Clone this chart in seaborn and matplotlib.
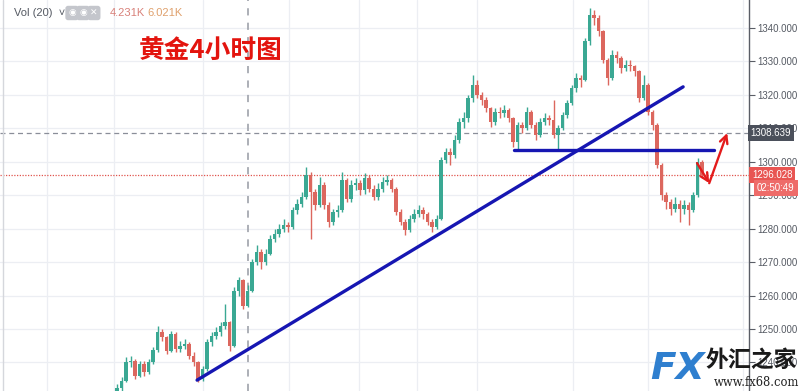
import numpy as np
import pandas as pd
import matplotlib
matplotlib.use("Agg")
import matplotlib.pyplot as plt
import seaborn as sns

# ---------------- data (4h gold candles) ----------------
first_open = 1231.0
closes = [
    1232.3, 1234.5, 1240.0, 1240.5, 1236.0, 1239.5, 1237.0, 1240.0, 1243.7, 1249.0,
    1247.5, 1243.5, 1248.5, 1244.0, 1245.0, 1245.5, 1242.0, 1240.0, 1235.0, 1238.0,
    1246.0, 1248.0, 1249.0, 1251.0, 1252.0, 1245.0, 1261.5, 1264.5, 1257.0, 1261.5,
    1270.0, 1273.0, 1270.0, 1272.5, 1277.0, 1278.5, 1280.0, 1281.0, 1280.5, 1285.5,
    1287.5, 1289.5, 1296.0, 1291.0, 1287.0, 1293.0, 1287.0, 1282.0, 1285.0, 1285.5,
    1294.5, 1289.0, 1293.0, 1293.5, 1291.5, 1295.0, 1292.0, 1289.5, 1292.0, 1294.0,
    1294.5, 1292.0, 1285.0, 1282.0, 1279.5, 1283.0, 1284.5, 1285.5, 1284.5, 1282.0,
    1280.5, 1283.0, 1300.5, 1303.0, 1302.0, 1306.5, 1312.0, 1313.0, 1319.0, 1323.0,
    1320.0, 1318.5, 1316.0, 1312.0, 1315.0, 1314.5, 1315.5, 1313.0, 1306.0, 1311.0,
    1310.0, 1315.0, 1311.0, 1308.0, 1312.0, 1313.0, 1312.5, 1308.0, 1310.0, 1314.0,
    1317.5, 1322.0, 1325.0, 1324.5, 1336.0, 1344.0, 1343.0, 1339.0, 1330.5, 1325.0,
    1332.0, 1331.0, 1328.0, 1329.0, 1328.5, 1327.0, 1319.0, 1323.0, 1315.0, 1311.0,
    1299.0, 1290.0, 1288.0, 1286.0, 1287.5, 1286.0, 1287.0, 1285.5, 1290.0, 1300.0,
    1296.03]
highs = [
    1233.5, 1235.5, 1241.5, 1242.0, 1241.0, 1240.5, 1240.5, 1241.0, 1244.5, 1251.0,
    1250.0, 1248.0, 1249.5, 1249.0, 1246.5, 1247.0, 1246.0, 1243.0, 1240.5, 1239.0,
    1247.0, 1249.0, 1250.5, 1252.0, 1257.5, 1252.5, 1262.5, 1265.5, 1265.0, 1263.0,
    1271.0, 1275.0, 1274.0, 1274.0, 1278.0, 1280.0, 1281.5, 1283.0, 1282.0, 1286.5,
    1289.0, 1291.0, 1298.3, 1297.0, 1292.0, 1295.5, 1294.0, 1288.0, 1286.0, 1287.0,
    1297.0, 1295.0, 1294.5, 1295.0, 1294.5, 1296.5, 1296.0, 1293.0, 1293.5, 1295.5,
    1296.0, 1295.0, 1292.5, 1286.0, 1283.0, 1284.0, 1286.0, 1287.0, 1286.5, 1285.0,
    1283.0, 1284.0, 1301.5, 1304.0, 1304.0, 1308.0, 1313.0, 1315.0, 1320.0, 1326.0,
    1324.5, 1321.0, 1319.5, 1316.5, 1316.0, 1316.5, 1317.0, 1316.0, 1313.5, 1312.0,
    1312.0, 1316.5, 1315.5, 1312.0, 1313.0, 1314.5, 1314.0, 1318.5, 1311.0, 1315.0,
    1318.5, 1323.0, 1326.5, 1326.0, 1337.0, 1346.0, 1345.5, 1344.0, 1339.5, 1331.0,
    1333.5, 1333.0, 1331.5, 1330.5, 1330.5, 1329.0, 1327.5, 1326.0, 1323.5, 1315.5,
    1311.5, 1299.5, 1291.0, 1289.0, 1289.5, 1288.5, 1288.5, 1288.0, 1291.0, 1301.0,
    1300.5]
lows = [
    1230.0, 1231.5, 1234.0, 1238.5, 1235.0, 1235.5, 1236.0, 1236.5, 1239.5, 1243.0,
    1246.5, 1242.5, 1243.0, 1243.0, 1243.0, 1244.0, 1241.0, 1239.0, 1234.0, 1234.5,
    1237.5, 1245.0, 1247.0, 1248.0, 1250.0, 1243.5, 1244.5, 1260.0, 1256.0, 1256.5,
    1261.0, 1269.0, 1268.0, 1269.0, 1272.0, 1276.0, 1277.5, 1279.0, 1279.0, 1280.0,
    1284.5, 1286.5, 1289.0, 1277.0, 1285.5, 1286.5, 1286.0, 1280.5, 1281.0, 1283.5,
    1285.0, 1288.0, 1288.0, 1291.5, 1290.0, 1290.5, 1291.0, 1288.5, 1288.5, 1291.0,
    1293.0, 1291.0, 1284.0, 1281.0, 1278.0, 1279.0, 1282.0, 1283.5, 1283.0, 1281.0,
    1279.0, 1280.0, 1282.5, 1299.5, 1299.0, 1301.0, 1305.5, 1310.0, 1312.0, 1318.0,
    1319.0, 1317.0, 1315.0, 1310.5, 1311.0, 1313.0, 1313.5, 1312.0, 1304.5, 1303.5,
    1308.5, 1309.5, 1310.0, 1306.5, 1307.5, 1311.0, 1311.0, 1307.0, 1303.5, 1309.5,
    1313.0, 1317.0, 1321.0, 1322.5, 1324.0, 1335.0, 1341.0, 1337.5, 1329.5, 1323.0,
    1324.5, 1329.5, 1326.5, 1327.0, 1327.0, 1325.5, 1318.0, 1318.5, 1314.0, 1309.5,
    1298.0, 1288.5, 1286.0, 1284.0, 1285.0, 1282.0, 1284.5, 1281.0, 1285.0, 1289.5,
    1295.0]

y_ticks = [1240, 1250, 1260, 1270, 1280, 1290, 1300, 1310, 1320, 1330, 1340]
last_price = 1296.028
marked_price = 1308.639
countdown = "02:50:49"
vol_values = ["4.231K", "6.021K"]
title_text = "黄金4小时图"

# drawings on the chart (bar index, price)
trend_x = [17.8, 125.8]
trend_y = [1234.7, 1322.4]
support_x = [88.2, 132.7]
support_y = [1303.5, 1303.5]
arrow_down = [(128.9, 1299.6), (131.6, 1293.6)]
arrow_up = [(131.6, 1293.6), (135.6, 1308.6)]
vline_bar = 29.1
vgrid_bars = [-15.6, -0.7, 19.1, 38.2, 53.8, 66.7, 80.0, 101.3, 118.0, 139.1]

# ---------------- build table ----------------
opens = [first_open] + closes[:-1]
df = pd.DataFrame({"idx": np.arange(len(closes)), "o": opens, "h": highs,
                   "l": lows, "c": closes})
df["h"] = df[["h", "o", "c"]].max(axis=1)
df["l"] = df[["l", "o", "c"]].min(axis=1)
df["up"] = df["c"] >= df["o"]

sns.set_theme(style="white")
plt.rcParams["font.family"] = ["Liberation Sans", "Noto Sans CJK SC", "DejaVu Sans"]

fig = plt.figure(figsize=(8, 3.91), dpi=100)
fig.patch.set_facecolor("white")
ax = fig.add_axes([0, 0, 749 / 800, 1])
ax.set_facecolor("white")

ax.set_xlim(-26.0, 140.44)
ax.set_ylim(1231.45, 1348.37)

# grid
for yv in y_ticks:
    ax.axhline(yv, color="#eceef3", lw=0.9, zorder=0)
for xv in vgrid_bars:
    ax.axvline(xv, color="#eceef3", lw=0.9, zorder=0)

up_col, dn_col = "#3aa893", "#dc675e"
colors = np.where(df["up"], up_col, dn_col)
ax.vlines(df["idx"], df["l"], df["h"], colors=colors, lw=1.0, zorder=3)
bottom = np.minimum(df["o"], df["c"])
height = np.maximum(np.abs(df["c"] - df["o"]), 0.4)
ax.bar(df["idx"], height, bottom=bottom, width=0.72, color=colors,
       linewidth=0, zorder=3)

# reference lines
ax.axhline(marked_price, color="#8a8e99", ls=(0, (4, 3)), lw=0.9, zorder=2)
ax.axhline(last_price, color="#e0554f", ls=(0, (1, 1.2)), lw=0.9, zorder=2)
ax.axvline(vline_bar, color="#a6a9b1", ls=(0, (4, 4)), lw=1.3, zorder=1)

# drawn lines
sns.lineplot(x=trend_x, y=trend_y, color="#1616b2", lw=2.4, ax=ax, zorder=4)
sns.lineplot(x=support_x, y=support_y, color="#1616b2", lw=2.4, ax=ax, zorder=4)
for a in (arrow_down, arrow_up):
    ax.annotate("", xy=a[1], xytext=a[0],
                arrowprops=dict(arrowstyle="->", color="#e31b1b", lw=1.7,
                                mutation_scale=14, shrinkA=0, shrinkB=0),
                zorder=5)

# axes styling
for s in ["top", "left", "bottom"]:
    ax.spines[s].set_visible(False)
ax.spines["right"].set_color("#5a5d66")
ax.spines["right"].set_linewidth(1.0)
ax.set_xticks([])
ax.yaxis.tick_right()
ax.set_yticks(y_ticks)
ax.set_yticklabels([f"{v:.3f}" for v in y_ticks])
ax.tick_params(axis="y", direction="out", length=4, width=0.8, color="#5a5d66",
               pad=2, labelsize=7, labelcolor="#555a63", right=True)
ax.set_xlabel("")
ax.set_ylabel("")
if ax.get_legend():
    ax.get_legend().remove()

# price labels on right axis
ytr = ax.get_yaxis_transform()
ax.text(1.002, marked_price, f"{marked_price:.3f}", transform=ytr, ha="left",
        va="center", fontsize=7, color="white", clip_on=False, zorder=6,
        bbox=dict(boxstyle="square,pad=0.3", fc="#4b505b", ec="none"))
ax.text(1.004, last_price, f"{last_price:.3f}", transform=ytr, ha="left",
        va="center", fontsize=7, color="white", clip_on=False, zorder=6,
        bbox=dict(boxstyle="square,pad=0.3", fc="#e85552", ec="none"))
ax.annotate(countdown, xy=(1.004, last_price), xycoords=ytr, xytext=(5, -13),
            textcoords="offset pixels", ha="left", va="center", fontsize=7,
            color="white", annotation_clip=False, zorder=6,
            bbox=dict(boxstyle="square,pad=0.3", fc="#ee6b69", ec="none"))

# left border
ax.axvline(-25.3, color="#d5d7dc", lw=1.0)

# top-left legend
fig.text(14 / 800, 1 - 13 / 391, "Vol (20)  ˅", fontsize=8, color="#555a63", va="center")
for k, sym in enumerate(["◉", "◉", "✕"]):
    fig.text((72 + k * 11) / 800, 1 - 13 / 391, sym, fontsize=6.5, color="white",
             va="center", ha="center", family=["DejaVu Sans"],
             bbox=dict(boxstyle="round,pad=0.3", fc="#c4c6cc", ec="none"))
fig.text(110 / 800, 1 - 13 / 391, vol_values[0], fontsize=8, color="#d88079", va="center")
fig.text(147 / 800, 1 - 13 / 391, vol_values[1], fontsize=8, color="#dfa06c", va="center")

# title
fig.text(139 / 800, 1 - 50 / 391, title_text, fontsize=18.5, fontweight="bold",
         color="#e3140e", va="center", family=["Noto Sans CJK SC", "DejaVu Sans"])

# watermark
fig.text(650 / 800, 1 - 369 / 391, "FX", fontsize=27, fontweight="bold",
         fontstyle="italic", color="#2f7fcf", va="center", ha="left",
         family=["DejaVu Sans"], zorder=10)
fig.text(705 / 800, 1 - 360 / 391, "外汇之家", fontsize=16.5, fontweight="bold",
         color="#1a1a1a", va="center", ha="left",
         family=["Noto Sans CJK SC", "DejaVu Sans"], zorder=10)
fig.text(714 / 800, 1 - 382 / 391, "www.fx68.com", fontsize=8.3, color="#222222",
         va="center", ha="left", family=["DejaVu Serif"], zorder=10)

fig.savefig("out.png", dpi=100, facecolor="white")
